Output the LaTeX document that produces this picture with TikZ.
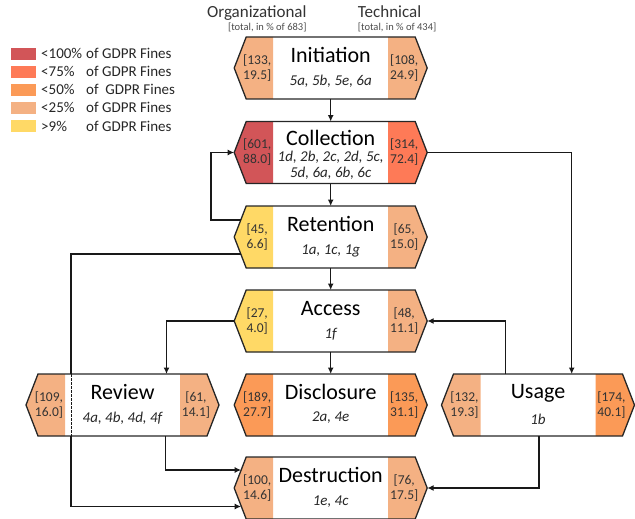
\documentclass[tikz,border=0pt]{standalone}
\usepackage{fontspec}
\setmainfont{Carlito}
\usetikzlibrary{arrows.meta,calc}
\definecolor{cA}{HTML}{D25558}
\definecolor{cB}{HTML}{FE7A57}
\definecolor{cC}{HTML}{FB9A57}
\definecolor{cD}{HTML}{F4B183}
\definecolor{cE}{HTML}{FFD966}
\tikzset{
  hexline/.style={draw=black!85, line width=1.3pt, line join=miter},
  hexanchor/.style={rectangle, minimum width=193pt, minimum height=62pt, inner sep=0pt, outer sep=0pt},
  titletxt/.style={anchor=base, font=\fontsize{22}{24}\selectfont, inner sep=0pt},
  subtxt/.style={anchor=base, font=\fontsize{15}{17}\selectfont\itshape, inner sep=0pt, text=black!85},
  numtxt/.style={font=\fontsize{13.5}{15}\selectfont, align=center, inner sep=0pt, text=black!80},
  legtxt/.style={anchor=base west, font=\fontsize{15}{18}\selectfont, inner sep=0pt, text=black!85},
  headtxt/.style={font=\fontsize{17}{20}\selectfont, inner sep=0pt, text=black!80},
  smalltxt/.style={font=\fontsize{10.5}{12}\selectfont, inner sep=0pt, text=black!70},
  conn/.style={line width=1.3pt, draw=black!90, -{Latex[length=6.5pt,width=6pt]}},
  plainline/.style={line width=1.3pt, draw=black!90},
}
\newcommand\hexbox[8]{%
  \begin{scope}[shift={(#2)}]
    \fill[#3] (-96.5,0) -- (-84.5,-31) -- (-57.5,-31) -- (-57.5,31) -- (-84.5,31) -- cycle;
    \fill[#4] (96.5,0) -- (84.5,-31) -- (57.5,-31) -- (57.5,31) -- (84.5,31) -- cycle;
    \draw[hexline] (-96.5,0) -- (-84.5,-31) -- (84.5,-31) -- (96.5,0) -- (84.5,31) -- (-84.5,31) -- cycle;
    \node[hexanchor] (#1) at (0,0) {};
    \node[titletxt] (#1-t) at (0,#8) {#5};
    \node[numtxt] (#1-l) at (-73.5,0) {#6};
    \node[numtxt] (#1-r) at (73.5,0) {#7};
  \end{scope}}
\begin{document}
\begin{tikzpicture}[x=1pt,y=-1pt]
\useasboundingbox (0,0) rectangle (635,519);
% legend
\fill[cA] (11,47.7) rectangle (36,60);
\fill[cB] (11,65.8) rectangle (36,78.1);
\fill[cC] (11,83.9) rectangle (36,96.2);
\fill[cD] (11,102) rectangle (36,114.3);
\fill[cE] (11,120.1) rectangle (36,132.4);
\node[legtxt] (leg1) at (41,58.3) {\makebox[45pt][l]{<100\%}of GDPR Fines};
\node[legtxt] (leg2) at (41,76.5) {\makebox[45pt][l]{<75\%}of GDPR Fines};
\node[legtxt] (leg3) at (41,94.7) {\makebox[45pt][l]{<50\%}of\ \ GDPR Fines};
\node[legtxt] (leg4) at (41,112.9) {\makebox[45pt][l]{<25\%}of GDPR Fines};
\node[legtxt] (leg5) at (41,131.1) {\makebox[45pt][l]{>9\%}of GDPR Fines};
% headers
\node[headtxt, anchor=base east] (org) at (306.7,17.3) {Organizational};
\node[smalltxt, anchor=base east] (orgs) at (306.7,30.5) {[total, in \% of 683]};
\node[headtxt, anchor=base west] (tech) at (357.7,17.3) {Technical};
\node[smalltxt, anchor=base west] (techs) at (357.7,30.5) {[total, in \% of 434]};
% boxes
\hexbox{init}{330.7,68}{cD}{cD}{Initiation}{[133,\\19.5]}{[108,\\24.9]}{-5}
\node[subtxt] (init-s) at ($(init)+(0,17)$) {5a, 5b, 5e, 6a};
\hexbox{coll}{330.7,152.5}{cA}{cB}{Collection}{[601,\\88.0]}{[314,\\72.4]}{-7}
\node[subtxt] (coll-s1) at ($(coll)+(0,8.8)$) {1d, 2b, 2c, 2d, 5c,};
\node[subtxt] (coll-s2) at ($(coll)+(0,25)$) {5d, 6a, 6b, 6c};
\hexbox{ret}{330.7,237}{cE}{cD}{Retention}{[45,\\6.6]}{[65,\\15.0]}{-5.5}
\node[subtxt] (ret-s) at ($(ret)+(0,17)$) {1a, 1c, 1g};
\hexbox{acc}{330.7,321}{cE}{cD}{Access}{[27,\\4.0]}{[48,\\11.1]}{-6}
\node[subtxt] (acc-s) at ($(acc)+(0,17.5)$) {1f};
\hexbox{rev}{122.5,405}{cD}{cD}{Review}{[109,\\16.0]}{[61,\\14.1]}{-5.5}
\node[subtxt] (rev-s) at ($(rev)+(0,17)$) {4a, 4b, 4d, 4f};
\hexbox{disc}{330.7,405}{cC}{cC}{Disclosure}{[189,\\27.7]}{[135,\\31.1]}{-6}
\node[subtxt] (disc-s) at ($(disc)+(0,16)$) {2a, 4e};
\hexbox{use}{538,405}{cD}{cC}{Usage}{[132,\\19.3]}{[174,\\40.1]}{-7}
\node[subtxt] (use-s) at ($(use)+(0,19)$) {1b};
\hexbox{dest}{330.7,488}{cD}{cD}{Destruction}{[100,\\14.6]}{[76,\\17.5]}{-6}
\node[subtxt] (dest-s) at ($(dest)+(0,17)$) {1e, 4c};
% connectors
\draw[conn] (init.south) -- (coll.north);
\draw[conn] (coll.south) -- (ret.north);
\draw[conn] (ret.south) -- (acc.north);
\draw[conn] (acc.south) -- (disc.north);
\draw[conn] ($(ret.west)+(6.6,-17)$) -- ++(-29.9,0) |- (coll.west);
\coordinate (revA) at ($(rev.north west)+(45,0)$);
\coordinate (revB) at ($(rev.south west)+(45,0)$);
\draw[plainline] ($(ret.west)+(6.6,17)$) -| (revA);
\draw[plainline, dash pattern=on 2.5pt off 1.5pt, line width=1pt] (revA) -- (revB);
\draw[conn] (revB) |- ($(dest.west)+(7,18.5)$);
\draw[conn] (acc.west) -| ($(rev.north)+(44,0)$);
\draw[conn] ($(rev.south)+(43,0)$) |- ($(dest.west)+(7,-18)$);
\draw[conn] ($(use.south)+(1,0)$) |- (dest.east);
\draw[conn] ($(use.north)+(-32.3,0)$) |- (acc.east);
\draw[conn] (coll.east) -| ($(use.north)+(33.7,0)$);
\end{tikzpicture}
\end{document}
